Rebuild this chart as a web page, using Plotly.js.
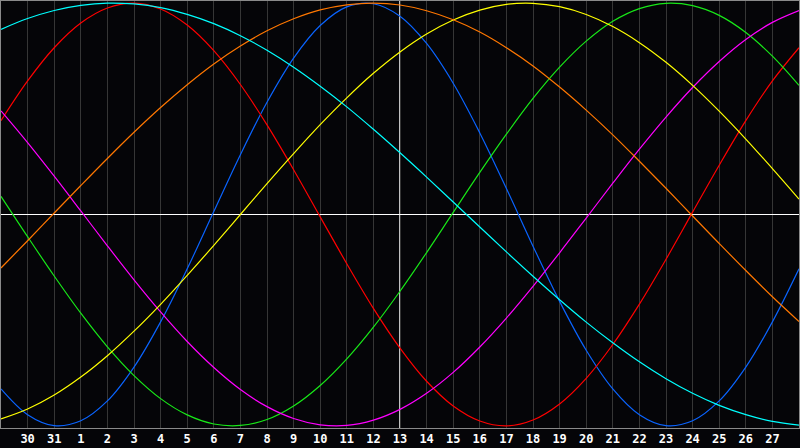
<!DOCTYPE html>
<html>
<head>
<meta charset="utf-8">
<script src="https://cdn.plot.ly/plotly-3.0.1.min.js"></script>
<style>
  html, body { margin: 0; padding: 0; background: #050508; }
  #chart { width: 800px; height: 448px; }
</style>
</head>
<body>
<div id="chart"></div>
<script>
// Day labels along the bottom (first and last are off the labelled range)
const dayLabels = ['29', '30', '31', '1', '2', '3', '4', '5', '6', '7', '8', '9', '10', '11', '12',
  '13', '14', '15', '16', '17', '18', '19', '20', '21', '22', '23', '24', '25', '26', '27', '28'];
const today = '13';

// Cycle values per day (-1 .. 1)
const physical = [-0.825, -0.947, -0.999, -0.976, -0.882, -0.722, -0.508, -0.257, 0.014, 0.283, 0.531,
  0.740, 0.894, 0.982, 0.997, 0.938, 0.809, 0.621, 0.386, 0.123, -0.150, -0.411, -0.642, -0.825,
  -0.947, -0.999, -0.976, -0.882, -0.722, -0.508, -0.257];
const emotional = [0.444, 0.632, 0.789, 0.906, 0.977, 1.000, 0.972, 0.896, 0.775, 0.615, 0.424,
  0.212, -0.011, -0.233, -0.444, -0.632, -0.789, -0.906, -0.977, -1.000, -0.972, -0.896, -0.775,
  -0.615, -0.424, -0.212, 0.011, 0.233, 0.444, 0.632, 0.789];
const intellectual = [0.086, -0.105, -0.291, -0.467, -0.626, -0.762, -0.871, -0.948, -0.991, -0.998,
  -0.970, -0.906, -0.809, -0.683, -0.533, -0.363, -0.180, 0.010, 0.199, 0.380, 0.549, 0.697, 0.820,
  0.914, 0.974, 0.999, 0.988, 0.942, 0.861, 0.749, 0.611];
const intuitive = [0.490, 0.340, 0.181, 0.017, -0.148, -0.309, -0.461, -0.601, -0.724, -0.828, -0.909,
  -0.965, -0.995, -0.998, -0.973, -0.922, -0.846, -0.747, -0.627, -0.490, -0.340, -0.181, -0.017,
  0.148, 0.309, 0.461, 0.601, 0.724, 0.828, 0.909, 0.965];
const aesthetic = [-0.967, -0.920, -0.854, -0.769, -0.668, -0.552, -0.425, -0.288, -0.146, 0.000,
  0.146, 0.288, 0.425, 0.552, 0.668, 0.769, 0.854, 0.920, 0.967, 0.994, 0.999, 0.983, 0.946, 0.889,
  0.813, 0.720, 0.611, 0.489, 0.357, 0.217, 0.073];
const awareness = [-0.253, -0.124, 0.007, 0.137, 0.265, 0.389, 0.506, 0.614, 0.712, 0.797, 0.869,
  0.926, 0.968, 0.992, 1.000, 0.991, 0.964, 0.921, 0.863, 0.789, 0.703, 0.603, 0.494, 0.377, 0.252,
  0.124, -0.007, -0.137, -0.265, -0.389, -0.506];
const spiritual = [0.876, 0.927, 0.965, 0.989, 1.000, 0.996, 0.979, 0.947, 0.903, 0.846, 0.777,
  0.697, 0.607, 0.509, 0.403, 0.292, 0.177, 0.059, -0.059, -0.177, -0.292, -0.403, -0.509, -0.607,
  -0.697, -0.777, -0.846, -0.903, -0.947, -0.979, -0.996];

const seriesNames = ['Physical', 'Emotional', 'Intellectual', 'Intuitive', 'Aesthetic', 'Awareness', 'Spiritual'];
const seriesData = [physical, emotional, intellectual, intuitive, aesthetic, awareness, spiritual];
const seriesColors = ['#0a64ff', '#ff0000', '#18e818', '#ff00ff', '#ffff00', '#ff7700', '#00ffff'];

const xs = dayLabels.map((_, i) => i);
const tickIdx = xs.slice(1, xs.length - 1);
const todayIdx = dayLabels.indexOf(today);

const traces = seriesData.map((vals, k) => ({
  x: xs,
  y: vals,
  type: 'scatter',
  mode: 'lines',
  name: seriesNames[k],
  line: { color: seriesColors[k], width: 1.2, shape: 'spline' },
  hoverinfo: 'skip'
}));

const layout = {
  width: 800,
  height: 448,
  margin: { l: 1, r: 1, t: 1, b: 20 },
  paper_bgcolor: '#050508',
  plot_bgcolor: '#050508',
  showlegend: false,
  xaxis: {
    range: [0, xs.length - 1],
    tickvals: tickIdx,
    ticktext: tickIdx.map(i => dayLabels[i]),
    ticks: '',
    showgrid: true,
    gridcolor: '#363636',
    gridwidth: 1,
    zeroline: false,
    showline: true,
    linecolor: '#8a8a8a',
    linewidth: 1,
    mirror: true,
    tickfont: { family: 'DejaVu Sans Mono', size: 12, color: '#ffffff', weight: 'bold' },
    fixedrange: true
  },
  yaxis: {
    range: [-1.01, 1.01],
    showticklabels: false,
    ticks: '',
    showgrid: false,
    zeroline: true,
    zerolinecolor: '#ffffff',
    zerolinewidth: 1.5,
    showline: true,
    linecolor: '#8a8a8a',
    linewidth: 1,
    mirror: true,
    fixedrange: true
  },
  shapes: [{
    type: 'line',
    xref: 'x', yref: 'paper',
    x0: todayIdx, x1: todayIdx, y0: 0, y1: 1,
    line: { color: '#ffffff', width: 1.5 },
    layer: 'below'
  }]
};

Plotly.newPlot('chart', traces, layout, { displayModeBar: false, staticPlot: true });
</script>
</body>
</html>
